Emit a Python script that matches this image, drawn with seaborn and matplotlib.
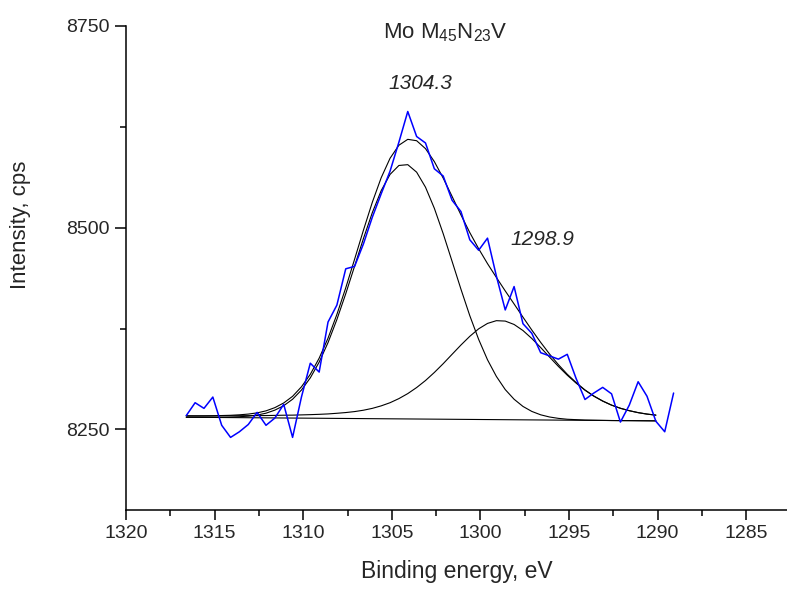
import numpy as np
import seaborn as sns
import matplotlib.pyplot as plt
from matplotlib.ticker import MultipleLocator

# measured spectrum (binding energy, eV / counts)
energy = [1316.6, 1316.1, 1315.6, 1315.1, 1314.6, 1314.1, 1313.6, 1313.1, 1312.6, 1312.1,
          1311.6, 1311.1, 1310.6, 1310.1, 1309.6, 1309.1, 1308.6, 1308.1, 1307.6, 1307.1,
          1306.6, 1306.1, 1305.6, 1305.1, 1304.6, 1304.1, 1303.6, 1303.1, 1302.6, 1302.1,
          1301.6, 1301.1, 1300.6, 1300.1, 1299.6, 1299.1, 1298.6, 1298.1, 1297.6, 1297.1,
          1296.6, 1296.1, 1295.6, 1295.1, 1294.6, 1294.1, 1293.6, 1293.1, 1292.6, 1292.1,
          1291.6, 1291.1, 1290.6, 1290.1, 1289.6, 1289.1]
counts = [8267, 8283, 8276, 8290, 8255, 8240, 8247, 8256, 8271, 8255,
          8264, 8281, 8240, 8290, 8332, 8321, 8383, 8404, 8449, 8452,
          8480, 8513, 8542, 8570, 8606, 8644, 8613, 8605, 8573, 8564,
          8534, 8520, 8485, 8472, 8487, 8440, 8398, 8427, 8381, 8369,
          8345, 8341, 8337, 8343, 8313, 8287, 8295, 8302, 8294, 8259,
          8280, 8309, 8291, 8260, 8247, 8295]

# fitted curves (same energies, up to 1290.1)
fit_energy = energy[:54]
peak1 = [8265.0, 8264.9, 8264.9, 8264.9, 8265.0, 8265.2, 8265.6, 8266.4, 8267.7, 8270.0,
         8273.8, 8279.3, 8287.3, 8298.7, 8313.8, 8333.3, 8357.5, 8386.1, 8418.1, 8452.3,
         8486.6, 8518.7, 8545.9, 8566.0, 8577.1, 8578.1, 8568.8, 8550.2, 8524.0, 8492.5,
         8458.3, 8423.8, 8390.9, 8361.5, 8336.2, 8315.6, 8299.3, 8287.3, 8278.4, 8272.2,
         8268.0, 8265.3, 8263.6, 8262.5, 8262.0, 8261.5, 8261.3, 8261.1, 8260.9, 8260.8,
         8260.8, 8260.7, 8260.6, 8260.5]
peak2 = [8266.7, 8266.6, 8266.6, 8266.7, 8266.8, 8266.8, 8266.9, 8266.9, 8267.0, 8267.1,
         8267.3, 8267.5, 8267.6, 8267.9, 8268.2, 8268.6, 8269.1, 8269.9, 8270.8, 8272.0,
         8273.7, 8276.0, 8279.1, 8283.0, 8288.1, 8294.3, 8301.8, 8310.5, 8320.5, 8331.4,
         8343.0, 8354.5, 8365.3, 8374.6, 8381.3, 8384.7, 8384.2, 8380.0, 8372.5, 8362.6,
         8351.4, 8339.6, 8328.0, 8317.1, 8307.3, 8298.5, 8291.1, 8285.0, 8280.0, 8276.1,
         8273.1, 8270.7, 8268.9, 8267.6]
envelope = [8266.7, 8266.7, 8266.7, 8266.8, 8267.1, 8267.4, 8268.0, 8268.9, 8270.4, 8272.9,
            8276.9, 8282.7, 8290.9, 8302.7, 8318.2, 8338.2, 8363.0, 8392.4, 8425.4, 8460.9,
            8497.0, 8531.5, 8561.9, 8586.0, 8602.2, 8609.5, 8607.8, 8598.0, 8581.9, 8561.4,
            8538.8, 8515.9, 8493.9, 8473.9, 8455.4, 8438.3, 8421.6, 8405.4, 8389.1, 8373.1,
            8357.8, 8343.4, 8330.2, 8318.3, 8308.0, 8298.8, 8291.3, 8285.1, 8280.0, 8276.1,
            8273.1, 8270.7, 8268.9, 8267.6]
base_x = [1316.6, 1290.1]
base_y = [8265.0, 8260.5]

peak_labels = ['1304.3', '1298.9']
label_pos = [(1303.4, 8679), (1296.5, 8485)]

sns.set_style('ticks')
plt.rcParams['font.family'] = ['Liberation Sans', 'DejaVu Sans']
plt.rcParams['mathtext.fontset'] = 'custom'
plt.rcParams['mathtext.rm'] = 'Liberation Sans'

fig = plt.figure(figsize=(7.87, 5.9), dpi=100)
ax = fig.add_axes([126 / 787, 80 / 590, 661 / 787, 484 / 590])

sns.lineplot(x=base_x, y=base_y, ax=ax, color='black', lw=0.8, sort=False)
for curve in (peak1, peak2, envelope):
    sns.lineplot(x=fit_energy, y=curve, ax=ax, color='black', lw=0.8, sort=False)
sns.lineplot(x=energy, y=counts, ax=ax, color='#0000ff', lw=1.1, sort=False)

for lab, (px, py) in zip(peak_labels, label_pos):
    ax.text(px, py, lab, fontsize=15, style='italic', ha='center', va='center')

fig.text(445 / 787, 1 - 33 / 590, r'Mo M$_{\mathregular{45}}$N$_{\mathregular{23}}$V',
         fontsize=16, ha='center', va='center')

ax.set_xlim(1320, 1282.7)
ax.set_ylim(8150, 8750)
ax.xaxis.set_major_locator(MultipleLocator(5))
ax.xaxis.set_minor_locator(MultipleLocator(2.5))
ax.yaxis.set_major_locator(MultipleLocator(250))
ax.yaxis.set_minor_locator(MultipleLocator(125))
ax.tick_params(which='major', length=8, width=1.1, labelsize=14, color='black')
ax.tick_params(which='minor', length=4.5, width=1.1, color='black')
ax.tick_params(axis='x', which='major', length=7)
ax.set_xlabel('Binding energy, eV', fontsize=16.5, labelpad=13)
ax.set_ylabel('Intensity, cps', fontsize=16)
ax.yaxis.set_label_coords(-0.143, 0.589)
for s in ('top', 'right'):
    ax.spines[s].set_visible(False)
for s in ('left', 'bottom'):
    ax.spines[s].set_linewidth(1.1)
    ax.spines[s].set_color('black')

fig.savefig('out.png', dpi=100)
